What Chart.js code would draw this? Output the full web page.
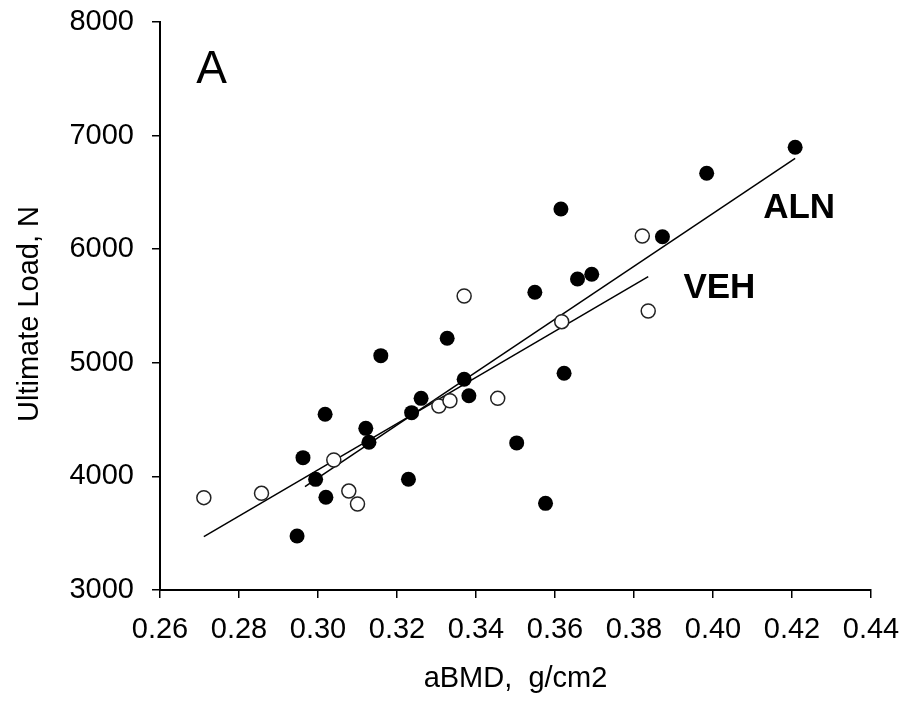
<!DOCTYPE html>
<html>
<head>
<meta charset="utf-8">
<script src="https://cdn.jsdelivr.net/npm/chart.js@4.4.1/dist/chart.umd.min.js"></script>
<style>
  html, body { margin: 0; padding: 0; background: #fff; }
  canvas { display: block; }
</style>
</head>
<body>
<canvas id="c" width="903" height="709"></canvas>
<script>
// ---- Data ----
const alnX = [0.2947, 0.2962, 0.2994, 0.3020, 0.3018, 0.3121, 0.3129, 0.3159, 0.3229, 0.3237, 0.3261, 0.3327,
              0.3370, 0.3382, 0.3503, 0.3549, 0.3576, 0.3615, 0.3623, 0.3657, 0.3693, 0.3872, 0.3984, 0.4208];
const alnY = [3475, 4165, 3974, 3816, 4547, 4423, 4300, 5063, 3975, 4561, 4687, 5216,
              4855, 4710, 4295, 5621, 3763, 6354, 4908, 5738, 5779, 6110, 6668, 6897];
const vehX = [0.2711, 0.2857, 0.3040, 0.3078, 0.3100, 0.3306, 0.3334, 0.3370, 0.3455, 0.3617, 0.3821, 0.3836];
const vehY = [3813, 3851, 4144, 3871, 3757, 4620, 4666, 5588, 4687, 5362, 6116, 5456];
// regression line end points
const alnFitX = [0.2967, 0.4208];
const alnFitY = [3909, 6800];
const vehFitX = [0.2711, 0.3836];
const vehFitY = [3469, 5758];
// ticks
const xTicks = [0.26, 0.28, 0.30, 0.32, 0.34, 0.36, 0.38, 0.40, 0.42, 0.44];
const yTicks = [3000, 4000, 5000, 6000, 7000, 8000];
const xTitle = 'aBMD,  g/cm2';
const yTitle = 'Ultimate Load, N';
const panelLabel = 'A';
const alnLabel = 'ALN';
const vehLabel = 'VEH';

const toPts = (xs, ys) => xs.map((x, i) => ({ x: x, y: ys[i] }));
const FONT = '"Liberation Sans", Arial, sans-serif';

const annot = {
  id: 'annot',
  afterDraw(chart) {
    const { ctx, scales: { x, y }, chartArea } = chart;
    ctx.save();
    ctx.fillStyle = '#000';
    ctx.textBaseline = 'alphabetic';
    ctx.textAlign = 'left';
    ctx.font = '46px ' + FONT;
    ctx.fillText(panelLabel, x.getPixelForValue(0.2692), y.getPixelForValue(7460));
    ctx.font = 'bold 35px ' + FONT;
    ctx.fillText(alnLabel, x.getPixelForValue(0.4127), y.getPixelForValue(6275));
    ctx.fillText(vehLabel, x.getPixelForValue(0.3925), y.getPixelForValue(5568));
    // axis titles
    ctx.font = '29px ' + FONT;
    ctx.textAlign = 'center';
    ctx.fillText(xTitle, (chartArea.left + chartArea.right) / 2, chartArea.bottom + 97);
    ctx.translate(37.5, (chartArea.top + chartArea.bottom) / 2 + 8);
    ctx.rotate(-Math.PI / 2);
    ctx.fillText(yTitle, 0, 0);
    ctx.restore();
  }
};

const zeroPad = s => { s.paddingTop = 0; s.paddingBottom = 0; s.paddingLeft = 0; s.paddingRight = 0; };

new Chart(document.getElementById('c'), {
  type: 'scatter',
  data: {
    datasets: [
      {
        label: 'ALN', data: toPts(alnX, alnY), order: 1,
        pointRadius: 7.5, pointBackgroundColor: '#000', pointBorderColor: '#000', pointBorderWidth: 0,
        showLine: false
      },
      {
        label: 'VEH', data: toPts(vehX, vehY), order: 2,
        pointRadius: 7, pointBackgroundColor: '#fff', pointBorderColor: '#222', pointBorderWidth: 1.5,
        showLine: false
      },
      {
        label: 'ALN fit', data: toPts(alnFitX, alnFitY), order: 3,
        showLine: true, pointRadius: 0, borderColor: '#000', borderWidth: 1.5, fill: false
      },
      {
        label: 'VEH fit', data: toPts(vehFitX, vehFitY), order: 4,
        showLine: true, pointRadius: 0, borderColor: '#000', borderWidth: 1.5, fill: false
      }
    ]
  },
  options: {
    responsive: false,
    animation: false,
    layout: { padding: { left: 0, right: 32, top: 22, bottom: 0 } },
    plugins: { legend: { display: false }, tooltip: { enabled: false }, title: { display: false } },
    scales: {
      x: {
        type: 'linear', min: 0.26, max: 0.44,
        afterBuildTicks: s => { s.ticks = xTicks.map(v => ({ value: v })); },
        afterFit: s => { s.height = 119; zeroPad(s); },
        grid: { drawOnChartArea: false, drawTicks: true, tickLength: 8, color: '#000', lineWidth: 1.5 },
        border: { display: true, color: '#000', width: 2 },
        ticks: { color: '#000', font: { family: FONT, size: 29 }, padding: 15, maxRotation: 0,
                 callback: v => Number(v).toFixed(2) }
      },
      y: {
        type: 'linear', min: 3000, max: 8000,
        afterBuildTicks: s => { s.ticks = yTicks.map(v => ({ value: v })); },
        afterFit: s => { s.width = 160; zeroPad(s); },
        grid: { drawOnChartArea: false, drawTicks: true, tickLength: 8, color: '#000', lineWidth: 1.5 },
        border: { display: true, color: '#000', width: 2 },
        ticks: { color: '#000', font: { family: FONT, size: 29 }, padding: 18,
                 callback: v => String(v) }
      }
    }
  },
  plugins: [annot]
});
</script>
</body>
</html>
